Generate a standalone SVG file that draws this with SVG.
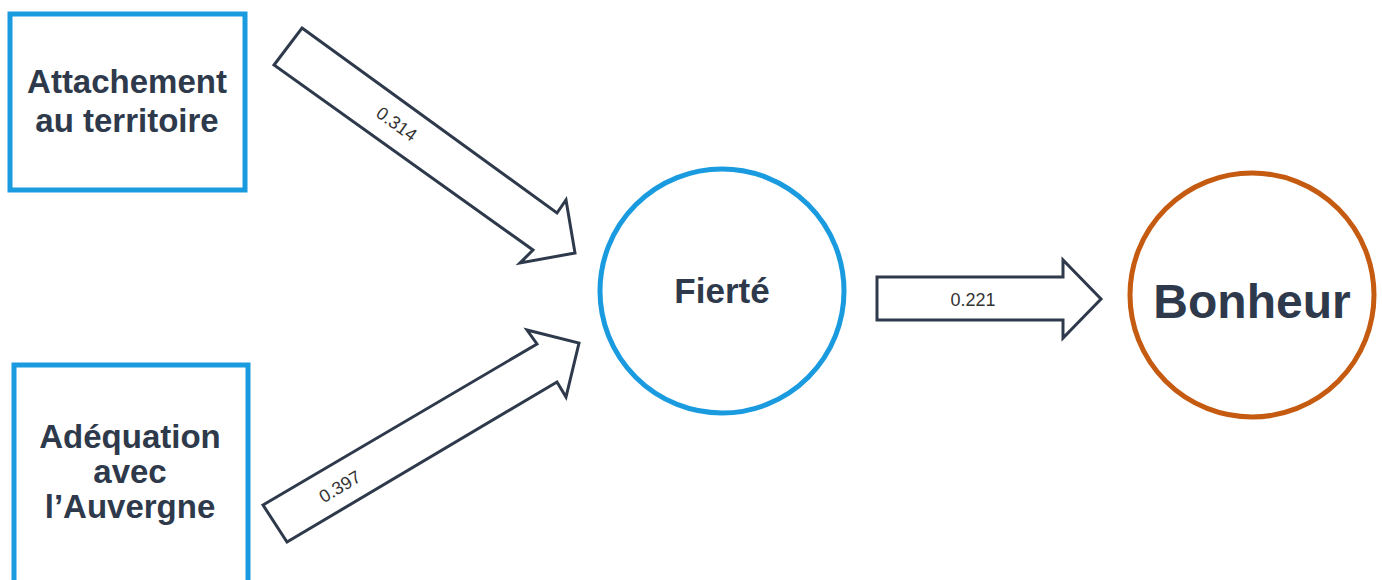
<svg xmlns="http://www.w3.org/2000/svg" width="1382" height="580" viewBox="0 0 1382 580">
<style>
.box{fill:#fff;stroke:#1A9BDF;stroke-width:5}
.fier{fill:#fff;stroke:#1A9BDF;stroke-width:5}
.bon{fill:#fff;stroke:#C55A11;stroke-width:5}
.nt{font-family:"Liberation Sans",Arial,sans-serif;font-weight:bold;fill:#2E3A4B;text-anchor:middle}
.arr{fill:#fff;stroke:#2E3A4B;stroke-width:3;stroke-linejoin:miter}
.lbl{font-family:"Liberation Sans",Arial,sans-serif;font-size:18px;fill:#333;text-anchor:middle}
</style>
<rect width="1382" height="580" fill="#fff"/>
<g id="connectors">
  <g id="arrow-attachement-fierte">
    <polygon class="arr" points="302,28 557,213 566,200 575,253 520,263 533,250 274,65"/>
    <text class="lbl" transform="translate(393,129) rotate(36)">0.314</text>
  </g>
  <g id="arrow-adequation-fierte">
    <polygon class="arr" points="263,505 537,344 527,330 579,343 566,397 557,382 287,542"/>
    <text class="lbl" transform="translate(343,492) rotate(-31)">0.397</text>
  </g>
  <g id="arrow-fierte-bonheur">
    <polygon class="arr" points="877,277 1063,277 1063,260 1101,299 1063,338 1063,320 877,320"/>
    <text class="lbl" x="973" y="306">0.221</text>
  </g>
</g>
<g id="node-attachement">
  <rect class="box" x="10" y="14" width="235" height="176"/>
  <text class="nt" font-size="33" x="127" y="93">Attachement</text>
  <text class="nt" font-size="33" x="127" y="132">au territoire</text>
</g>
<g id="node-adequation">
  <rect class="box" x="14" y="365" width="234" height="260"/>
  <text class="nt" font-size="33" x="130" y="448">Adéquation</text>
  <text class="nt" font-size="33" x="130" y="483">avec</text>
  <text class="nt" font-size="33" x="130" y="518">l’Auvergne</text>
</g>
<g id="node-fierte">
  <circle class="fier" cx="722" cy="291" r="122"/>
  <text class="nt" font-size="35" x="722" y="303">Fierté</text>
</g>
<g id="node-bonheur">
  <circle class="bon" cx="1252" cy="295" r="122"/>
  <text class="nt" font-size="48" x="1252" y="318">Bonheur</text>
</g>
</svg>
